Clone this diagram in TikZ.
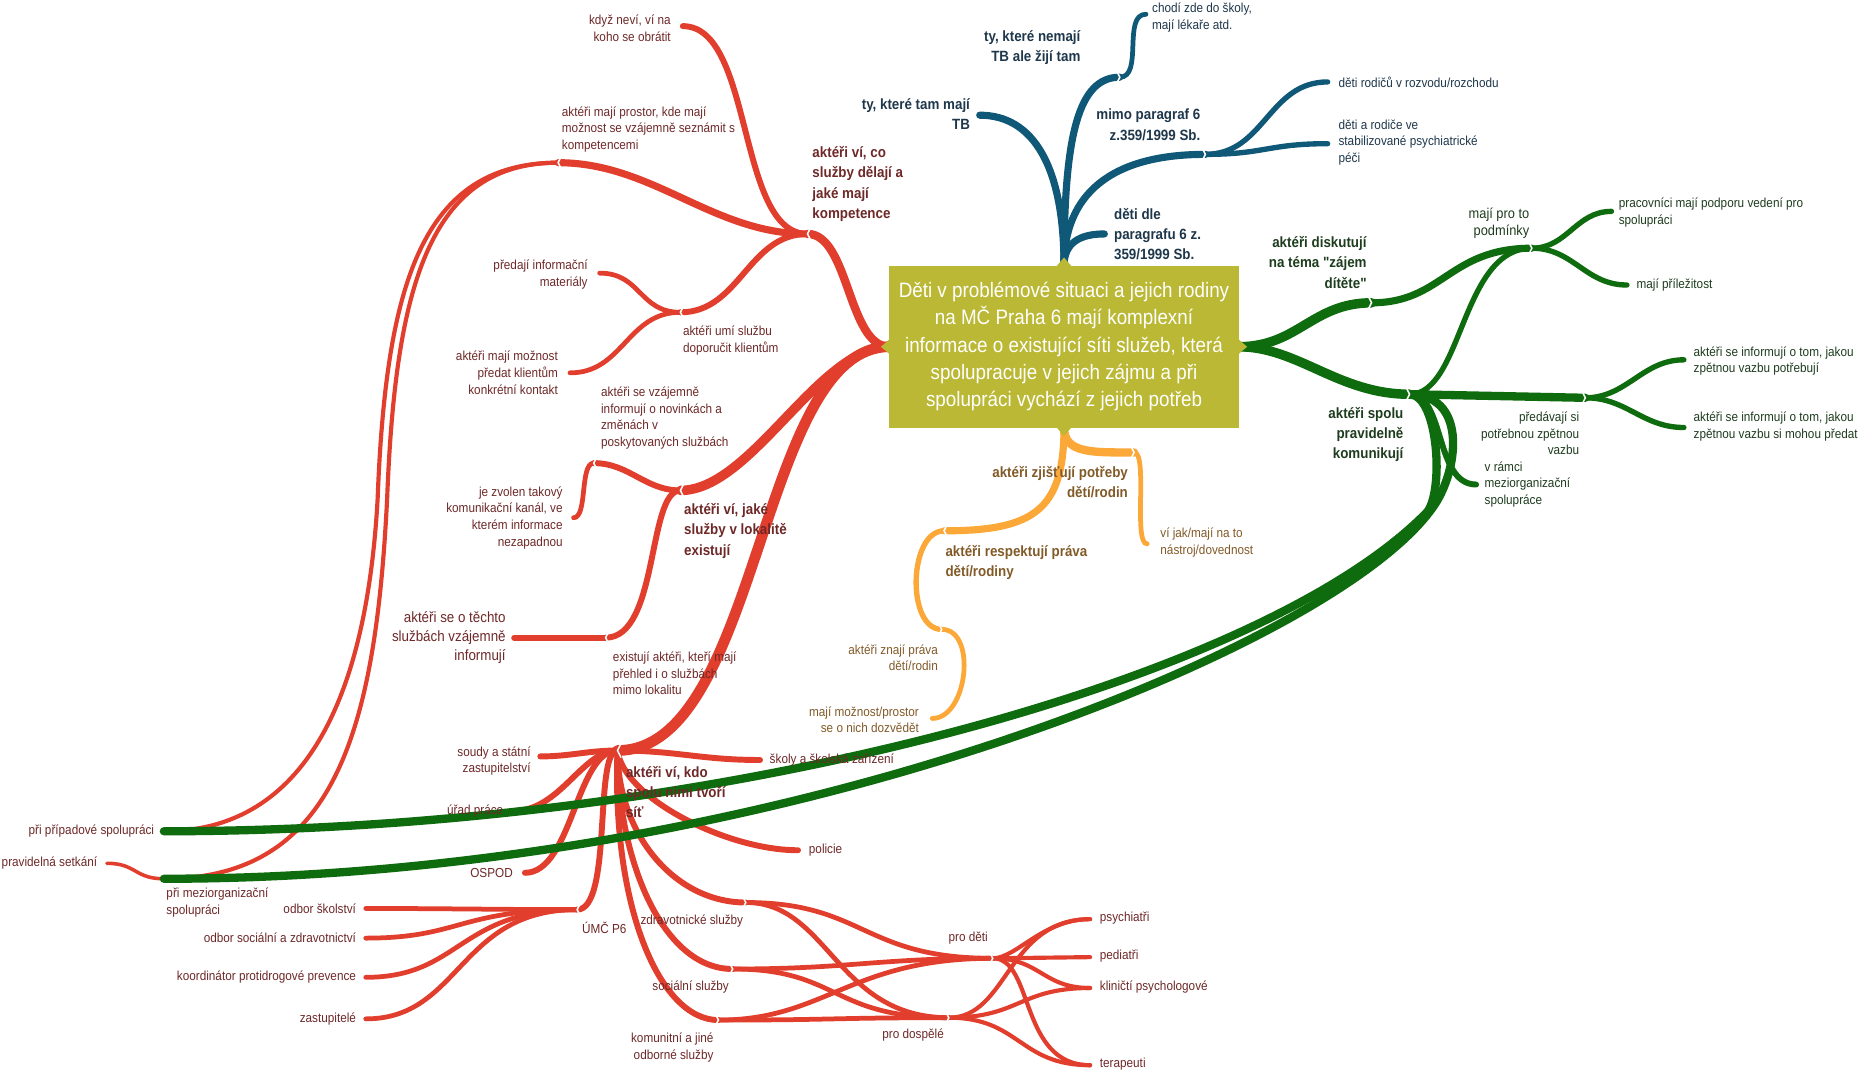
\documentclass[tikz,border=0pt]{standalone}
\usepackage{fontspec}
\setmainfont{Liberation Sans}[FakeStretch=0.9,Ligatures=TeXOff]
\usetikzlibrary{positioning}
\definecolor{cred}{RGB}{226,62,45}
\definecolor{cblue}{RGB}{16,88,120}
\definecolor{cgreen}{RGB}{14,107,14}
\definecolor{corange}{RGB}{252,168,56}
\definecolor{colive}{RGB}{186,184,52}
\definecolor{tred}{RGB}{110,40,40}
\definecolor{tblue}{RGB}{30,55,75}
\definecolor{tgreen}{RGB}{30,60,30}
\definecolor{torange}{RGB}{130,90,40}
\tikzset{
  stred/.style={
    rectangle,
    fill=colive,
    text=white,
    minimum width=294pt,
    minimum height=136pt,
    inner sep=0pt,
    align=center,
    font=\fontsize{17.6}{23}\selectfont},
  rline/.style={draw=cred,line cap=round},
  bline/.style={draw=cblue,line cap=round},
  gline/.style={draw=cgreen,line cap=round},
  oline/.style={draw=corange,line cap=round},
  notch/.style={draw=white,line width=1.3pt},
  lbl/.style={inner sep=0pt,font=\fontsize{11}{14}\selectfont},
  hlbl/.style={inner sep=0pt,font=\bfseries\fontsize{12.5}{17}\selectfont},
  rt/.style={text=tred},
  bt/.style={text=tblue},
  gt/.style={text=tgreen},
  ot/.style={text=torange},
}
\begin{document}
\begin{tikzpicture}[x=1pt,y=-1pt]
  \fill[white] (0,0) rectangle (1568,901);
  \useasboundingbox (0,0) rectangle (1568,901);

  \coordinate (ctop) at (896,224);
  \coordinate (cbot) at (896,360);
  \coordinate (cleft) at (749,292);
  \coordinate (cright) at (1043,292);

  \coordinate (tb) at (825,97);
  \coordinate (nemaji) at (943,65);
  \coordinate (chodi) at (965,12);
  \coordinate (mimo) at (1015,130);
  \coordinate (rozvod) at (1118,69);
  \coordinate (stabil) at (1118,121);
  \coordinate (dle) at (930,197);

  \coordinate (kompet) at (680,197);
  \coordinate (kdyz) at (575,22);
  \coordinate (prostor) at (470,137);
  \coordinate (doporucit) at (573,263);
  \coordinate (predaji) at (505,230);
  \coordinate (kontakt) at (480,314);
  \coordinate (pripad) at (138,700);
  \coordinate (mezi) at (138,740);
  \coordinate (setkani) at (90,727);
  \coordinate (rbend1) at (318,420);
  \coordinate (rbend2) at (326,420);
  \coordinate (lokal) at (573,413);
  \coordinate (novinky) at (500,390);
  \coordinate (kanal) at (483,436);
  \coordinate (prehled) at (510,537);
  \coordinate (techto) at (433,537);
  \coordinate (sit) at (520,632);
  \coordinate (soudy) at (455,637);
  \coordinate (skoly) at (640,640);
  \coordinate (urad) at (432,683);
  \coordinate (ospod) at (442,735);
  \coordinate (policie) at (672,716);
  \coordinate (umc) at (486,766);
  \coordinate (zdrav) at (628,760);
  \coordinate (social) at (617,816);
  \coordinate (komun) at (605,859);
  \coordinate (skolstvi) at (308,765);
  \coordinate (socz) at (308,790);
  \coordinate (koord) at (308,823);
  \coordinate (zastup) at (308,858);
  \coordinate (prodeti) at (836,807);
  \coordinate (prodosp) at (799,857);
  \coordinate (psych) at (918,774);
  \coordinate (pediatri) at (918,806);
  \coordinate (klin) at (918,832);
  \coordinate (terap) at (918,897);

  \coordinate (zjist) at (955,381);
  \coordinate (vijak) at (966,458);
  \coordinate (respekt) at (795,447);
  \coordinate (znaji) at (793,530);
  \coordinate (dozved) at (785,605);

  \coordinate (diskut) at (1155,255);
  \coordinate (podminky) at (1290,209);
  \coordinate (podpora) at (1357,178);
  \coordinate (prilez) at (1370,240);
  \coordinate (komunik) at (1187,332);
  \coordinate (zpetna) at (1335,335);
  \coordinate (potreb) at (1418,303);
  \coordinate (predat) at (1418,360);
  \coordinate (vramci) at (1243,408);
  \coordinate (gbend1) at (1201,432);
  \coordinate (gbend2) at (1210,422);

  \draw[bline,line width=6] (ctop) .. controls +(0,-84) and +(45,0) .. (tb);
  \draw[bline,line width=6] (ctop) .. controls +(0,-110) and +(-35,0) .. (nemaji);
  \draw[bline,line width=6] (ctop) .. controls +(0,-60) and +(-80,0) .. (mimo);
  \draw[bline,line width=6] (ctop) .. controls +(0,-20) and +(-20,0) .. (dle);
  \draw[bline,line width=4] (nemaji) .. controls +(20,0) and +(-20,0) .. (chodi);
  \draw[bline,line width=4.5] (mimo) .. controls +(50,0) and +(-50,0) .. (rozvod);
  \draw[bline,line width=4.5] (mimo) .. controls +(50,0) and +(-50,0) .. (stabil);

  \draw[rline,line width=7] (cleft) .. controls +(-35,0) and +(35,0) .. (kompet);
  \draw[rline,line width=8] (cleft) .. controls +(-60,0) and +(60,0) .. (lokal);
  \draw[rline,line width=9] (cleft) .. controls +(-110,0) and +(120,0) .. (sit);
  \draw[rline,line width=5] (kompet) .. controls +(-60,0) and +(60,0) .. (kdyz);
  \draw[rline,line width=6] (kompet) .. controls +(-80,0) and +(80,0) .. (prostor);
  \draw[rline,line width=5] (kompet) .. controls +(-50,0) and +(50,0) .. (doporucit);
  \draw[rline,line width=4] (doporucit) .. controls +(-35,0) and +(35,0) .. (predaji);
  \draw[rline,line width=4] (doporucit) .. controls +(-45,0) and +(45,0) .. (kontakt);
  \draw[rline,line width=3.5] (prostor) .. controls (355,137) and (325,240) .. (rbend1)
    .. controls (308,600) and (250,700) .. (pripad);
  \draw[rline,line width=3.5] (prostor) .. controls (362,137) and (333,240) .. (rbend2)
    .. controls (316,620) and (280,740) .. (mezi);
  \draw[rline,line width=3] (mezi) .. controls +(-25,0) and +(25,0) .. (setkani);
  \draw[rline,line width=5] (lokal) .. controls +(-30,0) and +(30,0) .. (novinky);
  \draw[rline,line width=4] (novinky) .. controls +(-12,0) and +(12,0) .. (kanal);
  \draw[rline,line width=5] (lokal) .. controls +(-28,0) and +(45,0) .. (prehled);
  \draw[rline,line width=5] (prehled) -- (techto);
  \draw[rline,line width=5] (sit) .. controls +(-25,0) and +(25,0) .. (soudy);
  \draw[rline,line width=5] (sit) .. controls +(-30,0) and +(40,0) .. (urad);
  \draw[rline,line width=5] (sit) .. controls +(-35,0) and +(40,0) .. (ospod);
  \draw[rline,line width=5] (sit) .. controls +(-20,0) and +(30,0) .. (umc);
  \draw[rline,line width=5] (sit) .. controls +(50,0) and +(-50,0) .. (skoly);
  \draw[rline,line width=5] (sit) .. controls +(5,40) and +(-60,0) .. (policie);
  \draw[rline,line width=5] (sit) .. controls +(0,70) and +(-60,0) .. (zdrav);
  \draw[rline,line width=5] (sit) .. controls +(0,90) and +(-60,0) .. (social);
  \draw[rline,line width=5] (sit) .. controls +(-5,130) and +(-50,0) .. (komun);
  \draw[rline,line width=4] (umc) .. controls +(-60,0) and +(60,0) .. (skolstvi);
  \draw[rline,line width=4] (umc) .. controls +(-100,0) and +(80,0) .. (socz);
  \draw[rline,line width=4] (umc) .. controls +(-100,0) and +(80,0) .. (koord);
  \draw[rline,line width=4] (umc) .. controls +(-100,0) and +(80,0) .. (zastup);
  \draw[rline,line width=4] (zdrav) .. controls +(100,0) and +(-110,0) .. (prodeti);
  \draw[rline,line width=4] (zdrav) .. controls +(70,0) and +(-95,0) .. (prodosp);
  \draw[rline,line width=4] (social) .. controls +(100,0) and +(-100,0) .. (prodeti);
  \draw[rline,line width=4] (social) .. controls +(90,0) and +(-100,0) .. (prodosp);
  \draw[rline,line width=4] (komun) .. controls +(90,0) and +(-120,0) .. (prodeti);
  \draw[rline,line width=4] (komun) .. controls +(100,0) and +(-100,0) .. (prodosp);
  \draw[rline,line width=3.5] (prodeti) .. controls +(20,0) and +(-40,0) .. (psych);
  \draw[rline,line width=3.5] (prodeti) -- (pediatri);
  \draw[rline,line width=3.5] (prodeti) .. controls +(40,0) and +(-40,0) .. (klin);
  \draw[rline,line width=3.5] (prodeti) .. controls +(35,0) and +(-60,0) .. (terap);
  \draw[rline,line width=3.5] (prodosp) .. controls +(50,0) and +(-70,0) .. (psych);
  \draw[rline,line width=3.5] (prodosp) .. controls +(60,0) and +(-60,0) .. (klin);
  \draw[rline,line width=3.5] (prodosp) .. controls +(60,0) and +(-60,0) .. (terap);

  \draw[oline,line width=7] (cbot) .. controls +(0,22) and +(-35,0) .. (zjist);
  \draw[oline,line width=6] (cbot) .. controls +(0,70) and +(75,0) .. (respekt);
  \draw[oline,line width=4] (zjist) .. controls +(12,0) and +(-12,0) .. (vijak);
  \draw[oline,line width=4.5] (respekt) .. controls +(-30,0) and +(-30,0) .. (znaji);
  \draw[oline,line width=4] (znaji) .. controls +(30,0) and +(30,0) .. (dozved);

  \draw[gline,line width=8] (cright) .. controls +(50,0) and +(-50,0) .. (diskut);
  \draw[gline,line width=8] (cright) .. controls +(50,0) and +(-60,0) .. (komunik);
  \draw[gline,line width=6] (diskut) .. controls +(60,0) and +(-70,0) .. (podminky);
  \draw[gline,line width=4.5] (komunik) .. controls +(45,0) and +(-60,0) .. (podminky);
  \draw[gline,line width=4.5] (podminky) .. controls +(30,0) and +(-30,0) .. (podpora);
  \draw[gline,line width=4.5] (podminky) .. controls +(35,0) and +(-35,0) .. (prilez);
  \draw[gline,line width=7] (komunik) -- (zpetna);
  \draw[gline,line width=4.5] (zpetna) .. controls +(35,0) and +(-35,0) .. (potreb);
  \draw[gline,line width=4.5] (zpetna) .. controls +(35,0) and +(-35,0) .. (predat);
  \draw[gline,line width=5] (komunik) .. controls +(30,0) and +(-35,0) .. (vramci);
  \draw[gline,line width=7] (komunik) .. controls (1212,333) and (1216,417) .. (gbend1)
    .. controls (1060,575) and (600,700) .. (pripad);
  \draw[gline,line width=7] (komunik) .. controls (1235,333) and (1228,392) .. (gbend2)
    .. controls (1137,541) and (650,740) .. (mezi);

  \foreach \n in {kompet,prostor,doporucit,lokal,novinky,prehled,sit,umc,respekt}
    \draw[notch] (\n) ++(3,-6) -- ++(-3,6) -- ++(3,6);
  \foreach \n in {mimo,nemaji,diskut,podminky,komunik,zpetna,zjist,znaji,zdrav,social,komun,prodeti,prodosp}
    \draw[notch] (\n) ++(-3,-6) -- ++(3,6) -- ++(-3,6);

  \node[stred] (deti) at (896,292) {Děti v problémové situaci a jejich rodiny\\na MČ Praha 6 mají komplexní\\informace o existující síti služeb, která\\spolupracuje v jejich zájmu a při\\spolupráci vychází z jejich potřeb};
  \fill[colive] (deti.north) ++(-6,0) -- ++(6,-7) -- ++(6,7) -- cycle;
  \fill[colive] (deti.south) ++(-6,0) -- ++(6,7) -- ++(6,-7) -- cycle;
  \fill[colive] (deti.west) ++(0,-6) -- ++(-7,6) -- ++(7,6) -- cycle;
  \fill[colive] (deti.east) ++(0,-6) -- ++(7,6) -- ++(-7,6) -- cycle;

  \node[hlbl,bt,align=right,anchor=east] (tb_t) at (817,96) {ty, které tam mají\\TB};
  \node[hlbl,bt,align=right,anchor=east] (nemaji_t) at (910,40) {ty, které nemají\\TB ale žijí tam};
  \node[lbl,bt,align=left,anchor=west] (chodi_t) at (970,15) {chodí zde do školy,\\mají lékaře atd.};
  \node[hlbl,bt,align=right,anchor=east] (mimo_t) at (1011,105) {mimo paragraf 6\\z.359/1999 Sb.};
  \node[lbl,bt,align=left,anchor=west] (rozvod_t) at (1127,69) {děti rodičů v rozvodu/rozchodu};
  \node[lbl,bt,align=left,anchor=west] (stabil_t) at (1127,120) {děti a rodiče ve\\stabilizované psychiatrické\\péči};
  \node[hlbl,bt,align=left,anchor=west] (dle_t) at (938,197) {děti dle\\paragrafu 6 z.\\359/1999 Sb.};

  \node[hlbl,rt,align=left,anchor=west] (kompet_t) at (684,155) {aktéři ví, co\\služby dělají a\\jaké mají\\kompetence};
  \node[lbl,rt,align=right,anchor=east] (kdyz_t) at (565,24) {když neví, ví na\\koho se obrátit};
  \node[lbl,rt,align=left,anchor=west] (prostor_t) at (473,109) {aktéři mají prostor, kde mají\\možnost se vzájemně seznámit s\\kompetencemi};
  \node[lbl,rt,align=left,anchor=west] (doporucit_t) at (575,287) {aktéři umí službu\\doporučit klientům};
  \node[lbl,rt,align=right,anchor=east] (predaji_t) at (495,231) {předají informační\\materiály};
  \node[lbl,rt,align=right,anchor=east] (kontakt_t) at (470,314) {aktéři mají možnost\\předat klientům\\konkrétní kontakt};
  \node[lbl,rt,anchor=east] (pripad_t) at (130,700) {při případové spolupráci};
  \node[lbl,rt,align=left,anchor=west] (mezi_t) at (140,760) {při meziorganizační\\spolupráci};
  \node[lbl,rt,anchor=east] (setkani_t) at (82,727) {pravidelná setkání};
  \node[hlbl,rt,align=left,anchor=west] (lokal_t) at (576,447) {aktéři ví, jaké\\služby v lokalitě\\existují};
  \node[lbl,rt,align=left,anchor=west] (novinky_t) at (506,352) {aktéři se vzájemně\\informují o novinkách a\\změnách v\\poskytovaných službách};
  \node[lbl,rt,align=right,anchor=east] (kanal_t) at (474,436) {je zvolen takový\\komunikační kanál, ve\\kterém informace\\nezapadnou};
  \node[lbl,rt,align=left,anchor=west] (prehled_t) at (516,567) {existují aktéři, kteří mají\\přehled i o službách\\mimo lokalitu};
  \node[lbl,rt,align=right,anchor=east,font=\fontsize{12.5}{16}\selectfont] (techto_t) at (426,537) {aktéři se o těchto\\službách vzájemně\\informují};
  \node[hlbl,rt,align=left,anchor=west] (sit_t) at (527,667) {aktéři ví, kdo\\spolu nimi tvoří\\síť};
  \node[lbl,rt,align=right,anchor=east] (soudy_t) at (447,641) {soudy a státní\\zastupitelství};
  \node[lbl,rt,anchor=west] (skoly_t) at (648,640) {školy a školská zařízení};
  \node[lbl,rt,anchor=east] (urad_t) at (424,683) {úřad práce};
  \node[lbl,rt,anchor=east] (ospod_t) at (432,735) {OSPOD};
  \node[lbl,rt,anchor=west] (policie_t) at (681,716) {policie};
  \node[lbl,rt,anchor=west] (umc_t) at (490,781) {ÚMČ P6};
  \node[lbl,rt,anchor=east] (zdrav_t) at (626,776) {zdravotnické služby};
  \node[lbl,rt,anchor=east] (social_t) at (614,831) {sociální služby};
  \node[lbl,rt,align=right,anchor=east] (komun_t) at (601,882) {komunitní a jiné\\odborné služby};
  \node[lbl,rt,anchor=east] (skolstvi_t) at (300,765) {odbor školství};
  \node[lbl,rt,anchor=east] (socz_t) at (300,790) {odbor sociální a zdravotnictví};
  \node[lbl,rt,anchor=east] (koord_t) at (300,823) {koordinátor protidrogové prevence};
  \node[lbl,rt,anchor=east] (zastup_t) at (300,858) {zastupitelé};
  \node[lbl,rt,anchor=east] (prodeti_t) at (832,790) {pro děti};
  \node[lbl,rt,anchor=east] (prodosp_t) at (795,872) {pro dospělé};
  \node[lbl,rt,anchor=west] (psych_t) at (926,773) {psychiatři};
  \node[lbl,rt,anchor=west] (pediatri_t) at (926,805) {pediatři};
  \node[lbl,rt,anchor=west] (klin_t) at (926,831) {kliničtí psychologové};
  \node[lbl,rt,anchor=west] (terap_t) at (926,896) {terapeuti};

  \node[hlbl,ot,align=right,anchor=east] (zjist_t) at (950,406) {aktéři zjišťují potřeby\\dětí/rodin};
  \node[lbl,ot,align=left,anchor=west] (vijak_t) at (977,457) {ví jak/mají na to\\nástroj/dovednost};
  \node[hlbl,ot,align=left,anchor=west] (respekt_t) at (796,474) {aktéři respektují práva\\dětí/rodiny};
  \node[lbl,ot,align=right,anchor=east] (znaji_t) at (790,554) {aktéři znají práva\\dětí/rodin};
  \node[lbl,ot,align=right,anchor=east] (dozved_t) at (774,606) {mají možnost/prostor\\se o nich dozvědět};

  \node[hlbl,gt,align=right,anchor=east] (diskut_t) at (1151,221) {aktéři diskutují\\na téma "zájem\\dítěte"};
  \node[lbl,gt,align=right,anchor=east,font=\fontsize{12}{15}\selectfont] (podminky_t) at (1288,188) {mají pro to\\podmínky};
  \node[lbl,gt,align=left,anchor=west] (podpora_t) at (1363,179) {pracovníci mají podporu vedení pro\\spolupráci};
  \node[lbl,gt,anchor=west] (prilez_t) at (1378,240) {mají příležitost};
  \node[hlbl,gt,align=right,anchor=east] (komunik_t) at (1182,366) {aktéři spolu\\pravidelně\\komunikují};
  \node[lbl,gt,align=right,anchor=east] (zpetna_t) at (1330,365) {předávají si\\potřebnou zpětnou\\vazbu};
  \node[lbl,gt,align=left,anchor=west] (potreb_t) at (1426,304) {aktéři se informují o tom, jakou\\zpětnou vazbu potřebují};
  \node[lbl,gt,align=left,anchor=west] (predat_t) at (1426,359) {aktéři se informují o tom, jakou\\zpětnou vazbu si mohou předat};
  \node[lbl,gt,align=left,anchor=west] (vramci_t) at (1250,408) {v rámci\\meziorganizační\\spolupráce};
\end{tikzpicture}
\end{document}
